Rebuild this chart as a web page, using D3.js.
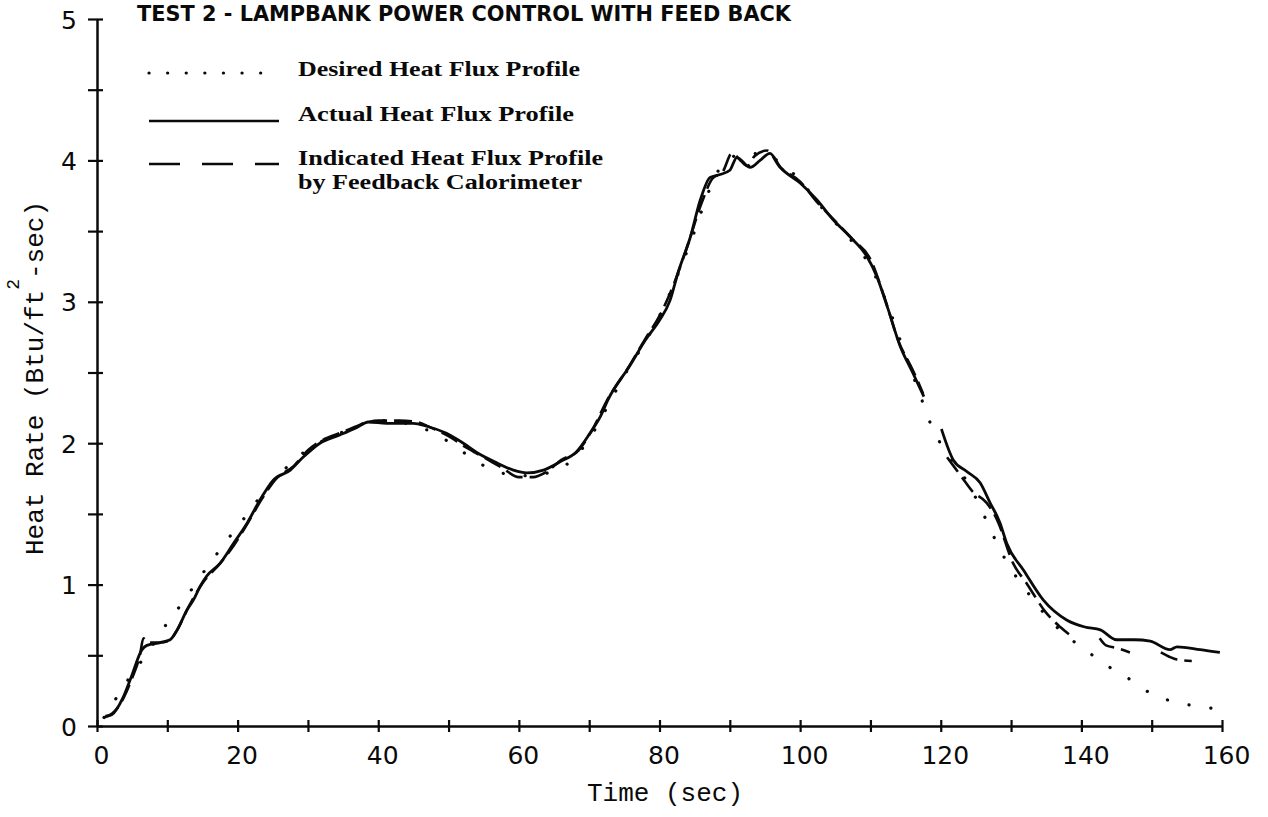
<!DOCTYPE html>
<html>
<head>
<meta charset="utf-8">
<script src="https://cdn.jsdelivr.net/npm/d3@7"></script>
<style>
  html, body { margin: 0; padding: 0; background: #fff; }
  svg { display: block; }
</style>
</head>
<body>
<svg id="chart" width="1268" height="817"></svg>
<script>
// ---------------- data ----------------
const chartTitle = "TEST 2 - LAMPBANK POWER CONTROL WITH FEED BACK";
const xTickValues = [0, 10, 20, 30, 40, 50, 60, 70, 80, 90, 100, 110, 120, 130, 140, 150, 160];
const xTickLabels = [0, 20, 40, 60, 80, 100, 120, 140, 160];
const yTickValues = [0, 0.5, 1, 1.5, 2, 2.5, 3, 3.5, 4, 4.5, 5];
const yTickLabels = [0, 1, 2, 3, 4, 5];
const seriesNames = ["Desired Heat Flux Profile", "Actual Heat Flux Profile", "Indicated Heat Flux Profile", "by Feedback Calorimeter"];

// Desired heat flux profile (dotted)
const desiredTime = [1, 2.9, 5, 7.1, 9.3, 11.1, 13.1, 14.9, 16.8, 19.2, 21.1, 23.5, 26, 28.5, 31.5, 35, 38, 41, 44, 46, 47.6, 50, 52, 54, 56.9, 60, 63, 66.8, 70, 72.5, 75, 78, 80, 82.5, 85, 87, 89.3, 92.4, 95, 98, 100, 102.5, 105, 107.5, 110, 112.5, 115, 117, 118.7, 121, 122.5, 124.2, 125.3, 126.9, 128.2, 130.8, 132.9, 135.5, 138.6, 141.6, 144.5, 146.9, 149.9, 154.2, 158, 160.2];
const desiredHeat = [0.06, 0.21, 0.37, 0.51, 0.68, 0.8, 0.94, 1.07, 1.2, 1.36, 1.48, 1.64, 1.78, 1.9, 2.0, 2.08, 2.14, 2.16, 2.14, 2.11, 2.08, 2.01, 1.94, 1.87, 1.8, 1.77, 1.78, 1.85, 2.03, 2.25, 2.48, 2.72, 2.9, 3.18, 3.5, 3.78, 3.99, 4.05, 4.04, 3.95, 3.86, 3.7, 3.56, 3.42, 3.25, 2.97, 2.62, 2.35, 2.12, 1.92, 1.82, 1.69, 1.58, 1.41, 1.27, 1.05, 0.91, 0.75, 0.61, 0.5, 0.4, 0.33, 0.23, 0.16, 0.13, 0.11];

// Actual heat flux profile (solid); null = pen gap
const actualTime = [1.2, 2.1, 3.7, 4.9, 6.4, 7.1, 9.0, 10.4, 11.3, 12.8, 13.7, 14.7, 15.6, 17.5, 19.4, 21.3, 23.2, 25.1, 27.5, 29.3, 31.7, 34.6, 36.9, 38.6, 41.2, 45, 46.9, 49.7, 52.1, 54.5, 56.9, 59.2, 61.1, 63.5, 65.9, 68.2, 70.1, 71.6, 72.7, 75.8, 78, 80, 81.5, 82.6, 84.4, 85.8, 87.2, 88.6, 90, 91, 92.9, 94.3, 95.7, 97.2, 100, 102.4, 104.7, 107.1, 109.5, 110.9, 112.5, 114.2, 116, 117.6, 118.8, 120.1, 121.8, 123.7, 125.6, 127, 128.4, 129.4, 131.8, 134.6, 137.9, 140.5, 142.7, 145, 147.5, 149.8, 152.6, 153.6, 156.9, 159.7];
const actualHeat = [0.07, 0.08, 0.2, 0.35, 0.54, 0.57, 0.59, 0.61, 0.67, 0.82, 0.89, 0.99, 1.06, 1.15, 1.29, 1.43, 1.6, 1.74, 1.81, 1.9, 2.0, 2.06, 2.11, 2.15, 2.14, 2.14, 2.12, 2.07, 2.0, 1.92, 1.86, 1.81, 1.79, 1.81, 1.87, 1.94, 2.07, 2.19, 2.31, 2.55, 2.73, 2.87, 3.01, 3.2, 3.46, 3.72, 3.88, 3.9, 3.93, 4.02, 3.95, 4.0, 4.05, 3.95, 3.84, 3.72, 3.58, 3.46, 3.32, 3.18, 2.95, 2.69, 2.5, 2.33, null, 2.1, 1.88, 1.8, 1.72, 1.58, 1.44, 1.29, 1.1, 0.89, 0.75, 0.70, 0.68, 0.61, 0.61, 0.6, 0.54, 0.56, 0.54, 0.52];

// Indicated heat flux profile by feedback calorimeter (dashed); null = pen gap
const indicatedTime = [1.0, 2.2, 3.8, 5.0, 6.1, 6.6, 7.3, 9.0, 10.4, 11.4, 13, 15, 17.5, 19.5, 21.5, 23.5, 25.5, 28, 30, 32, 35, 38, 40, 43, 45.5, 47.5, 50, 52.5, 55, 57.5, 60, 62, 64, 66, 68.5, 70.5, 72.5, 75.5, 78, 80, 82, 84, 86, 87.5, 89, 90.3, 91.5, 92.5, 93.5, 95.3, 97, 100, 102.5, 105, 107.5, 110, 112, 114, 116, 117.5, 118.5, 120.9, 123, 124.5, 126.5, 128, 130.3, 132.2, 135, 137, 138.7, 139.5, 142.6, 143.5, 145.2, 146.9, 148, 151.3, 152.5, 153.6, 155.7];
const indicatedHeat = [0.06, 0.09, 0.2, 0.34, 0.5, 0.62, 0.59, 0.59, 0.61, 0.68, 0.84, 1.01, 1.15, 1.28, 1.44, 1.61, 1.75, 1.84, 1.95, 2.02, 2.08, 2.14, 2.16, 2.16, 2.15, 2.11, 2.05, 1.97, 1.9, 1.83, 1.76, 1.76, 1.8, 1.88, 1.95, 2.1, 2.3, 2.53, 2.74, 2.9, 3.12, 3.4, 3.7, 3.87, 3.92, 4.05, 4.0, 3.96, 4.03, 4.07, 3.96, 3.85, 3.7, 3.57, 3.44, 3.3, 3.03, 2.72, 2.52, 2.35, null, 1.9, 1.76, 1.66, 1.58, 1.46, 1.15, 1.01, 0.8, 0.7, 0.63, null, 0.62, 0.57, 0.55, 0.52, null, 0.52, 0.49, 0.47, 0.46];

// ---------------- drawing ----------------
const svg = d3.select("#chart");
svg.append("rect").attr("width", 1268).attr("height", 817).attr("fill", "#fff");

const x = d3.scaleLinear().domain([0, 160]).range([97, 1222]);
const y = d3.scaleLinear().domain([0, 5]).range([726, 19]);
const ink = "#0a0a0a";

// title
svg.append("text")
  .attr("x", 137).attr("y", 21)
  .attr("font-family", "DejaVu Sans, sans-serif")
  .attr("font-size", 22).attr("font-weight", "bold")
  .attr("textLength", 654).attr("lengthAdjust", "spacingAndGlyphs")
  .attr("fill", ink)
  .text(chartTitle);

// x axis
const xAxis = svg.append("g")
  .attr("transform", `translate(0,${y(0)})`)
  .call(d3.axisBottom(x).tickValues(xTickValues).tickSizeOuter(0).tickSizeInner(6)
    .tickFormat(d => xTickLabels.includes(d) ? d : ""));
xAxis.select(".domain").attr("stroke", ink).attr("stroke-width", 2.5);
xAxis.selectAll(".tick line").attr("y1", -6).attr("y2", 6).attr("stroke", ink).attr("stroke-width", 2.2);
xAxis.selectAll(".tick text")
  .attr("x", 4).attr("y", 20).attr("dy", "0.71em")
  .attr("font-family", "DejaVu Sans, sans-serif").attr("font-size", 25).attr("fill", ink);

// y axis
const yAxis = svg.append("g")
  .attr("transform", `translate(${x(0)},0)`)
  .call(d3.axisLeft(y).tickValues(yTickValues).tickSizeOuter(0).tickSizeInner(6)
    .tickFormat(d => yTickLabels.includes(d) ? d : ""));
yAxis.select(".domain").attr("stroke", ink).attr("stroke-width", 2.5);
yAxis.selectAll(".tick line").attr("x1", -9).attr("x2", 6).attr("stroke", ink).attr("stroke-width", 2.2);
yAxis.selectAll(".tick text")
  .attr("x", -20).attr("dy", "0.36em")
  .attr("font-family", "DejaVu Sans, sans-serif").attr("font-size", 25).attr("fill", ink);

// axis titles
svg.append("text")
  .attr("x", 665).attr("y", 801).attr("text-anchor", "middle")
  .attr("font-family", "Liberation Mono, Courier New, monospace").attr("font-size", 26)
  .attr("fill", ink)
  .text("Time (sec)");

const yTitle = svg.append("text")
  .attr("transform", "translate(43,378) rotate(-90)")
  .attr("text-anchor", "middle")
  .attr("font-family", "Liberation Mono, Courier New, monospace").attr("font-size", 26)
  .attr("fill", ink);
yTitle.append("tspan").text("Heat Rate (Btu/ft");
yTitle.append("tspan").attr("dy", -24).attr("font-size", 18).text("2");
yTitle.append("tspan").attr("dy", 24).text("-sec)");

// series
const zip = (ts, vs) => ts.map((t, i) => ({ t: t, v: vs[i] }));
const line = d3.line()
  .defined(d => d.v != null)
  .x(d => x(d.t)).y(d => y(d.v))
  .curve(d3.curveMonotoneX);

svg.append("path").datum(zip(desiredTime, desiredHeat))
  .attr("d", line).attr("fill", "none").attr("stroke", ink)
  .attr("stroke-width", 3.2).attr("stroke-linecap", "round")
  .attr("stroke-dasharray", "0.1 22");

svg.append("path").datum(zip(actualTime, actualHeat))
  .attr("d", line).attr("fill", "none").attr("stroke", ink)
  .attr("stroke-width", 2.8).attr("stroke-linejoin", "round");

svg.append("path").datum(zip(indicatedTime, indicatedHeat))
  .attr("d", line).attr("fill", "none").attr("stroke", ink)
  .attr("stroke-width", 2.6).attr("stroke-dasharray", "18 7");

// legend
const legendFont = "Liberation Serif, Times New Roman, serif";
const lg = svg.append("g");
lg.append("line").attr("x1", 149).attr("x2", 279).attr("y1", 73).attr("y2", 73)
  .attr("stroke", ink).attr("stroke-width", 3.2).attr("stroke-linecap", "round")
  .attr("stroke-dasharray", "0.1 18.5");
lg.append("line").attr("x1", 149).attr("x2", 279).attr("y1", 121).attr("y2", 121)
  .attr("stroke", ink).attr("stroke-width", 2.4);
lg.append("line").attr("x1", 149).attr("x2", 279).attr("y1", 164).attr("y2", 164)
  .attr("stroke", ink).attr("stroke-width", 2.6).attr("stroke-dasharray", "31 22");

const legendRows = [
  { text: seriesNames[0], y: 76, w: 282 },
  { text: seriesNames[1], y: 121, w: 276 },
  { text: seriesNames[2], y: 165, w: 305 },
  { text: seriesNames[3], y: 189, w: 284 }
];
lg.selectAll("text.leg").data(legendRows).join("text")
  .attr("class", "leg")
  .attr("x", 298).attr("y", d => d.y)
  .attr("font-family", legendFont).attr("font-size", 20).attr("font-weight", "bold")
  .attr("textLength", d => d.w).attr("lengthAdjust", "spacingAndGlyphs")
  .attr("fill", ink)
  .text(d => d.text);
</script>
</body>
</html>
